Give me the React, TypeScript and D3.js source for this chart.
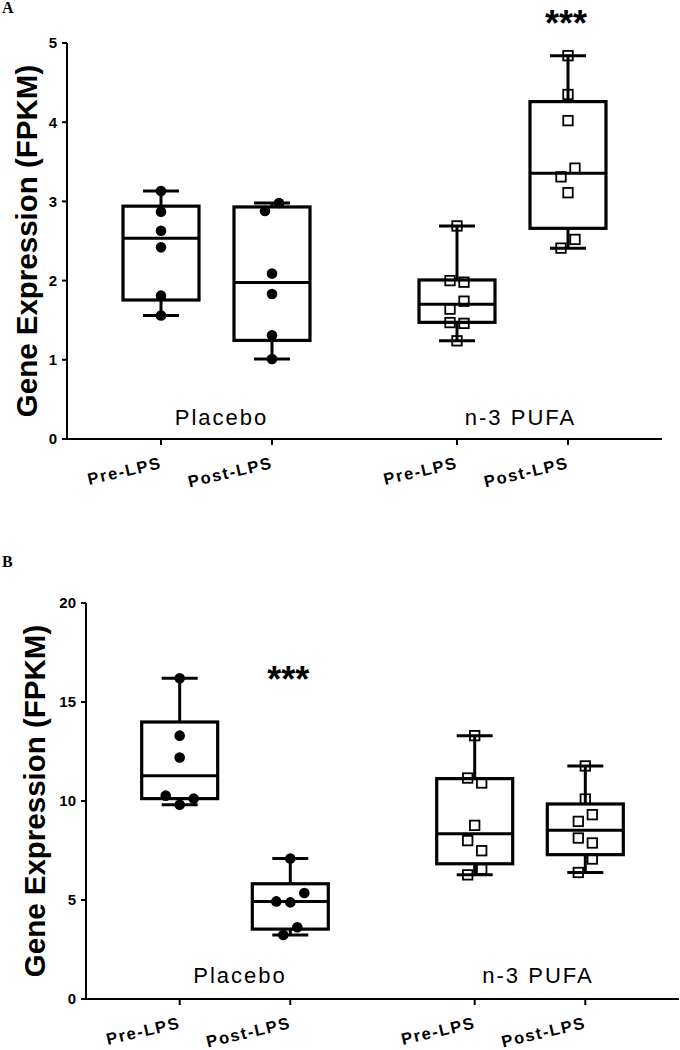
import { useEffect, useRef } from 'react';
import * as d3 from 'd3';

const groups = ['Placebo', 'n-3 PUFA'];
const conditions = ['Pre-LPS', 'Post-LPS'];

// Panel A (FPKM)
const aPlaceboPre = [3.13, 2.87, 2.63, 2.42, 1.81, 1.56];
const aPlaceboPost = [2.88, 2.98, 2.09, 1.83, 1.31, 1.01];
const aPufaPre = [2.69, 2.0, 1.98, 1.64, 1.74, 1.47, 1.46, 1.24];
const aPufaPost = [4.84, 4.35, 4.02, 3.31, 3.42, 3.11, 2.41, 2.52];
// q1, median, q3 as drawn
const aQuartiles = [
  [1.755, 2.535, 2.94],
  [1.245, 1.977, 2.93],
  [1.473, 1.7, 2.008],
  [2.66, 3.355, 4.26],
];
const aTicks = [0, 1, 2, 3, 4, 5];
const aStars = ['', '', '', '***'];

// Panel B (FPKM)
const bPlaceboPre = [16.2, 13.3, 12.2, 10.27, 9.81, 10.12];
const bPlaceboPost = [7.09, 4.93, 4.88, 5.35, 3.23, 3.62];
const bPufaPre = [13.3, 11.16, 10.91, 8.77, 8.0, 7.49, 6.27, 6.56];
const bPufaPost = [11.77, 10.1, 8.97, 9.31, 8.13, 7.88, 6.39, 7.07];
const bQuartiles = [
  [10.12, 11.28, 13.99],
  [3.53, 4.93, 5.82],
  [6.83, 8.35, 11.13],
  [7.29, 8.52, 9.85],
];
const bTicks = [0, 5, 10, 15, 20];
const bStars = ['', '***', '', ''];

const SANS = '"Liberation Sans", Arial, sans-serif';

interface PanelCfg {
  letter: string;
  letterY: number;
  series: number[][];
  quartiles: number[][];
  ticks: number[];
  stars: string[];
  top: number;
  bottom: number;
  left: number;
  right: number;
  titleX: number;
  groupLabelY: number;
  starY: number;
}

// spread points that sit too close vertically (pairs / triples), like Prism does
function jitter(values: number[], y: d3.ScaleLinear<number, number>, step: number) {
  const idx = d3.range(values.length).sort((a, b) => d3.descending(values[a], values[b]));
  const off = new Array(values.length).fill(0);
  let i = 0;
  while (i < idx.length) {
    const grp = [idx[i]];
    const y0 = y(values[idx[i]]);
    if (i + 1 < idx.length && y(values[idx[i + 1]]) - y0 < 14.5) {
      grp.push(idx[i + 1]);
      if (i + 2 < idx.length && y(values[idx[i + 2]]) - y0 < 11) grp.push(idx[i + 2]);
    }
    grp.sort((a, b) => a - b);
    const offs = grp.length === 1 ? [0] : grp.length === 2 ? [-step, step] : [-2 * step, 0, 2 * step];
    grp.forEach((k, j) => (off[k] = offs[j]));
    i += grp.length;
  }
  return off;
}

function drawPanel(svg: d3.Selection<SVGSVGElement, unknown, null, undefined>, cfg: PanelCfg) {
  const g = svg.append('g');
  const y = d3
    .scaleLinear()
    .domain([0, d3.max(cfg.ticks) as number])
    .range([cfg.bottom, cfg.top]);
  const x = d3.scaleLinear().domain([0.153, 5.514]).range([cfg.left, cfg.right]);
  const slot = (s: number) => 1 + (s % 2) + Math.floor(s / 2) * 2.667;

  // panel letter
  g.append('text')
    .attr('x', 2)
    .attr('y', cfg.letterY)
    .attr('font-family', '"Liberation Serif", "Times New Roman", serif')
    .attr('font-weight', 'bold')
    .attr('font-size', 16)
    .text(cfg.letter);

  // y axis
  g.append('line')
    .attr('x1', cfg.left)
    .attr('x2', cfg.left)
    .attr('y1', cfg.top)
    .attr('y2', cfg.bottom)
    .attr('stroke', '#000')
    .attr('stroke-width', 2);
  const yt = g.selectAll('.yt').data(cfg.ticks).enter().append('g');
  yt.append('line')
    .attr('x1', cfg.left - 5)
    .attr('x2', cfg.left)
    .attr('y1', (d) => y(d))
    .attr('y2', (d) => y(d))
    .attr('stroke', '#000')
    .attr('stroke-width', 2);
  yt.append('text')
    .attr('x', cfg.left - 10)
    .attr('y', (d) => y(d))
    .attr('dy', '0.36em')
    .attr('text-anchor', 'end')
    .attr('font-family', SANS)
    .attr('font-weight', 'bold')
    .attr('font-size', 15)
    .text((d) => d);

  g.append('text')
    .attr('transform', `translate(${cfg.titleX},${(cfg.top + cfg.bottom) / 2}) rotate(-90)`)
    .attr('text-anchor', 'middle')
    .attr('font-family', SANS)
    .attr('font-weight', 'bold')
    .attr('font-size', 29.5)
    .text('Gene Expression (FPKM)');

  // x axis
  g.append('line')
    .attr('x1', cfg.left - 1)
    .attr('x2', cfg.right)
    .attr('y1', cfg.bottom)
    .attr('y2', cfg.bottom)
    .attr('stroke', '#000')
    .attr('stroke-width', 2);
  const xt = g.selectAll('.xt').data(cfg.series).enter().append('g');
  xt.append('line')
    .attr('x1', (_, i) => x(slot(i)))
    .attr('x2', (_, i) => x(slot(i)))
    .attr('y1', cfg.bottom)
    .attr('y2', cfg.bottom + 6)
    .attr('stroke', '#000')
    .attr('stroke-width', 2);
  xt.append('text')
    .attr('transform', (_, i) => `translate(${x(slot(i)) + 1.5},${cfg.bottom + 29}) rotate(-13)`)
    .attr('text-anchor', 'end')
    .attr('font-family', SANS)
    .attr('font-weight', 'bold')
    .attr('font-size', 16.5)
    .attr('letter-spacing', 1.6)
    .text((_, i) => conditions[i % 2]);

  // group labels
  g.selectAll('.grp')
    .data(groups)
    .enter()
    .append('text')
    .attr('x', (_, gi) => (x(slot(gi * 2)) + x(slot(gi * 2 + 1))) / 2 + (gi === 0 ? 5 : 8))
    .attr('y', cfg.groupLabelY)
    .attr('text-anchor', 'middle')
    .attr('font-family', SANS)
    .attr('font-size', 22)
    .attr('letter-spacing', 2)
    .text((d) => d);

  const boxW = 76;
  const capW = 36;

  cfg.series.forEach((vals, s) => {
    const cx = x(slot(s));
    const [q1, med, q3] = cfg.quartiles[s];
    const lo = d3.min(vals) as number;
    const hi = d3.max(vals) as number;
    const bg = g.append('g');

    // whiskers
    bg.append('line')
      .attr('x1', cx).attr('x2', cx)
      .attr('y1', y(hi)).attr('y2', y(q3))
      .attr('stroke', '#000').attr('stroke-width', 3);
    bg.append('line')
      .attr('x1', cx).attr('x2', cx)
      .attr('y1', y(q1)).attr('y2', y(lo))
      .attr('stroke', '#000').attr('stroke-width', 3);
    [hi, lo].forEach((v) => {
      bg.append('line')
        .attr('x1', cx - capW / 2).attr('x2', cx + capW / 2)
        .attr('y1', y(v)).attr('y2', y(v))
        .attr('stroke', '#000').attr('stroke-width', 3);
    });
    // box
    bg.append('rect')
      .attr('x', cx - boxW / 2)
      .attr('y', y(q3))
      .attr('width', boxW)
      .attr('height', y(q1) - y(q3))
      .attr('fill', 'none')
      .attr('stroke', '#000')
      .attr('stroke-width', 3.2);
    bg.append('line')
      .attr('x1', cx - boxW / 2).attr('x2', cx + boxW / 2)
      .attr('y1', y(med)).attr('y2', y(med))
      .attr('stroke', '#000').attr('stroke-width', 3);

    // points
    const off = jitter(vals, y, 7);
    if (s < 2) {
      bg.selectAll('circle')
        .data(vals)
        .enter()
        .append('circle')
        .attr('cx', (_, i) => cx + off[i])
        .attr('cy', (d) => y(d))
        .attr('r', 5.3)
        .attr('fill', '#000');
    } else {
      const sz = 9.5;
      bg.selectAll('rect.pt')
        .data(vals)
        .enter()
        .append('rect')
        .attr('class', 'pt')
        .attr('x', (_, i) => cx + off[i] - sz / 2)
        .attr('y', (d) => y(d) - sz / 2)
        .attr('width', sz)
        .attr('height', sz)
        .attr('fill', 'none')
        .attr('stroke', '#000')
        .attr('stroke-width', 1.8);
    }

    if (cfg.stars[s]) {
      bg.append('text')
        .attr('x', cx - 2)
        .attr('y', cfg.starY)
        .attr('text-anchor', 'middle')
        .attr('font-family', SANS)
        .attr('font-weight', 'bold')
        .attr('font-size', 36)
        .text(cfg.stars[s]);
    }
  });
}

export default function App() {
  const svgRef = useRef<SVGSVGElement>(null);

  useEffect(() => {
    if (!svgRef.current) return;
    const svg = d3.select(svgRef.current);
    svg.selectAll('*').remove();

    drawPanel(svg, {
      letter: 'A',
      letterY: 13,
      series: [aPlaceboPre, aPlaceboPost, aPufaPre, aPufaPost],
      quartiles: aQuartiles,
      ticks: aTicks,
      stars: aStars,
      top: 43,
      bottom: 439,
      left: 67,
      right: 662,
      titleX: 37,
      groupLabelY: 425,
      starY: 36,
    });
    drawPanel(svg, {
      letter: 'B',
      letterY: 567,
      series: [bPlaceboPre, bPlaceboPost, bPufaPre, bPufaPost],
      quartiles: bQuartiles,
      ticks: bTicks,
      stars: bStars,
      top: 603,
      bottom: 999,
      left: 86,
      right: 679,
      titleX: 45,
      groupLabelY: 983,
      starY: 692,
    });
  }, []);

  return (
    <svg
      ref={svgRef}
      width={680}
      height={1050}
      viewBox="0 0 680 1050"
      style={{ position: 'absolute', left: 0, top: 0, background: '#fff' }}
    />
  );
}
